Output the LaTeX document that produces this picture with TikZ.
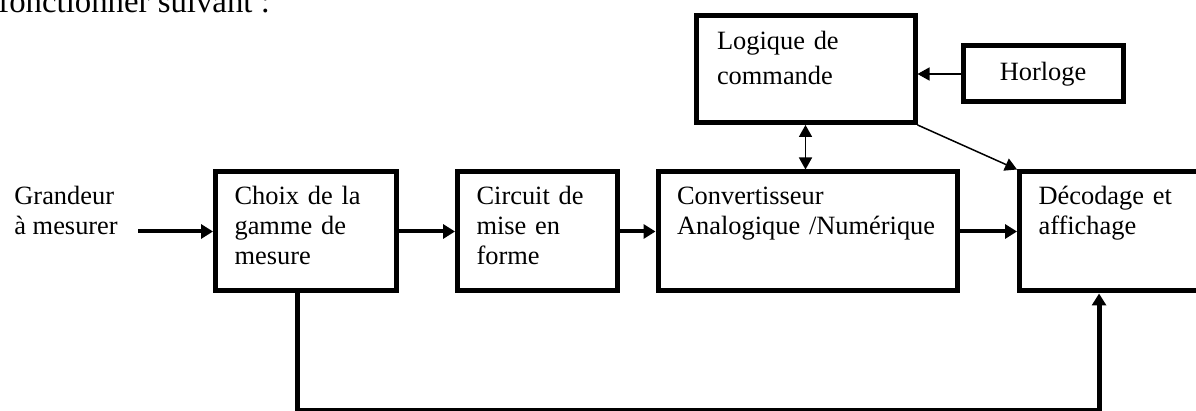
\documentclass[tikz,border=0pt]{standalone}
\usepackage{fontspec}
\setmainfont{Liberation Serif}
\usetikzlibrary{positioning,arrows.meta}

\begin{document}
\begin{tikzpicture}[auto,
			block node/.style={rectangle,draw,line width=2.5pt,align=left,
				inner xsep=9.5pt,inner ysep=6pt,text height=10.5pt,text depth=37pt,
				font=\fontsize{13.2}{15}\selectfont},
			clock node/.style={rectangle,draw,line width=2.5pt,inner sep=0pt,
				minimum width=80pt,minimum height=28pt,font=\fontsize{13.2}{15}\selectfont},
			big arrow/.style={line width=2pt,-{Triangle[length=6pt,width=7pt]}},
			thin arrow/.style={line width=0.75pt,-{Triangle[length=6pt,width=6.5pt]}},
			both arrow/.style={line width=0.75pt,{Triangle[length=6pt,width=6.5pt]}-{Triangle[length=6pt,width=6.5pt]}}]
			
			\useasboundingbox (0,0) rectangle (598pt,-205.5pt);
			
			\node[anchor=base west,inner sep=0pt,font=\fontsize{16.4}{18}\selectfont] (Intro) at (-1pt,-6.3pt) {fonctionner suivant :};
			
			\node[anchor=base west,inner sep=0pt,align=left,font=\fontsize{13.2}{15}\selectfont] (Grandeur) at (7pt,-117.5pt) {Grandeur\\à mesurer};
			\coordinate (Entree) at (69pt,-115.75pt);
			
			\node[block node,text width=71.25pt] (Choix) at (152.9pt,-115.75pt) {Choix de la\\gamme de\\mesure};
			\node[block node,text width=61pt] (Circuit) [right=28.25pt of Choix] {Circuit de\\mise en\\forme};
			\node[block node,text width=130.75pt] (Conv) [right=17.75pt of Circuit] {Convertisseur\\Analogique /Numérique};
			\node[block node,text width=90pt] (Decodage) [right=28.5pt of Conv] {Décodage et\\affichage};
			
			\node[block node,inner xsep=10.5pt,text width=88.5pt,text height=11pt,text depth=30.25pt,
				font=\fontsize{13.2}{17.5}\selectfont] (Logique) at (402.75pt,-34.6pt) {Logique de\\commande};
			\node[clock node] (Horloge) [right=21.5pt of Logique,yshift=-2.4pt] {Horloge};
			
			\draw[big arrow] (Entree) -- (Choix.west);
			\draw[big arrow] (Choix) -- (Circuit);
			\draw[big arrow] (Circuit) -- (Conv);
			\draw[big arrow] (Conv) -- (Decodage);
			
			\draw[thin arrow] (Horloge.west) -- (Horloge.west -| Logique.east);
			\draw[both arrow] (Logique.south) -- (Logique.south |- Conv.north);
			\draw[thin arrow] (Logique.south east) -- (Decodage.north west);
			
			% retour vers le decodage
			\coordinate (Retour) at ([xshift=41pt,yshift=-58.5pt]Decodage.south west);
			\draw[big arrow,line width=2.5pt] ([xshift=-4pt]Choix.south) |- (Retour) -- ([xshift=41pt]Decodage.south west);
			\end{tikzpicture}
\end{document}
